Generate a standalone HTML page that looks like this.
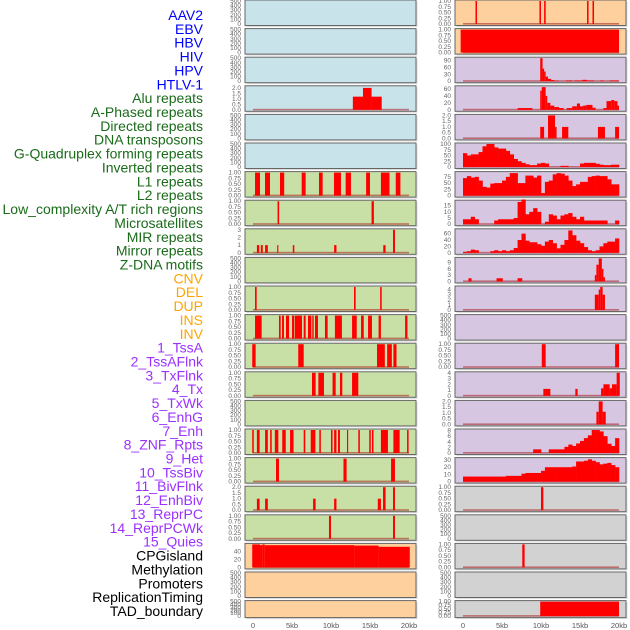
<!DOCTYPE html>
<html><head><meta charset="utf-8"><style>
html,body{margin:0;padding:0;background:#fff;width:630px;height:630px;overflow:hidden}
svg{display:block}
.lbl{font-family:"Liberation Sans",sans-serif;font-size:14px}
.tk{font-family:"Liberation Sans",sans-serif;font-size:6.5px;fill:#666}
.ax{font-family:"Liberation Sans",sans-serif;font-size:7.5px;fill:#555}
</style></head><body>
<svg id="chart" width="630" height="630"></svg>
<script>
const labelNames = ["AAV2","EBV","HBV","HIV","HPV","HTLV-1","Alu repeats","A-Phased repeats","Directed repeats","DNA transposons","G-Quadruplex forming repeats","Inverted repeats","L1 repeats","L2 repeats","Low_complexity A/T rich regions","Microsatellites","MIR repeats","Mirror repeats","Z-DNA motifs","CNV","DEL","DUP","INS","INV","1_TssA","2_TssAFlnk","3_TxFlnk","4_Tx","5_TxWk","6_EnhG","7_Enh","8_ZNF_Rpts","9_Het","10_TssBiv","11_BivFlnk","12_EnhBiv","13_ReprPC","14_ReprPCWk","15_Quies","CPGisland","Methylation","Promoters","ReplicationTiming","TAD_boundary"];
const labelGroups = [0,0,0,0,0,0,1,1,1,1,1,1,1,1,1,1,1,1,1,2,2,2,2,2,3,3,3,3,3,3,3,3,3,3,3,3,3,3,3,4,4,4,4,4];
const xTicks = [0,5,10,15,20];
const xTickLabels = ["0","5kb","10kb","15kb","20kb"];
// segments: [startKb, endKb, value]
const hivSegs = [[12.8,14.1,1.2],[14.1,15.2,2],[15.2,16.5,1.2]];
const aluSegs = [[0.26,0.9,1],[1.54,2.18,1],[3.46,4.0,1],[6.24,6.75,1],[8.46,8.93,1],[10.38,11.28,1],[11.88,12.56,1],[14.5,15.0,1],[16.4,17.5,1],[18.3,18.9,1]];
const aphasedSegs = [[3.15,3.35,1],[15.2,15.5,1]];
const directedSegs = [[0.5,0.8,1],[1.0,1.25,1],[1.55,1.9,1],[3.1,3.25,1],[5.1,5.3,1],[10.4,10.7,1],[16.7,17.0,1],[17.95,18.2,3]];
const gquadSegs = [[0.26,0.47,1],[12.95,13.16,1],[16.3,16.5,1]];
const invertedSegs = [[0.26,1.11,1],[3.33,3.55,1],[3.72,3.97,1],[4.23,4.62,1],[5.0,5.26,1],[5.34,6.28,1],[6.5,6.75,1],[7.05,7.48,1],[7.6,7.78,1],[7.95,8.33,1],[9.23,9.57,1],[10.5,11.4,1],[12.7,13.3,1],[13.85,14.2,1],[14.75,15.25,1],[16.1,16.4,1],[19.5,19.8,1]];
const l1Segs = [[-0.1,0.34,1],[5.8,6.5,1],[15.9,16.9,1],[17.2,17.8,1],[18.0,18.4,1]];
const l2Segs = [[7.56,8.03,1],[8.38,9.1,1],[10.2,10.6,1],[11.15,11.45,1],[12.7,13.5,1]];
const microSegs = [[-0.1,0.1,1],[0.5,0.85,1],[1.55,1.9,1],[2.2,2.4,1],[2.8,3.25,1],[3.75,4.2,1],[4.75,5.2,1],[6.5,6.7,1],[7.4,8.0,1],[8.5,8.7,1],[10.0,10.2,1],[10.4,10.7,1],[10.9,11.15,1],[12.05,12.2,1],[13.5,13.7,1],[14.9,15.1,1],[15.25,15.45,1],[16.4,17.3,1],[18.0,18.8,1],[19.75,19.95,1]];
const mirSegs = [[2.95,3.33,1],[11.6,12.0,1],[17.7,18.2,1]];
const mirrorSegs = [[0.5,0.85,1],[1.55,1.9,1],[7.7,8.03,1],[10.4,10.7,1],[16.0,16.4,1],[16.67,17.0,2],[17.95,18.2,2]];
const zdnaSegs = [[9.74,10.0,1],[17.95,18.2,1]];
const cnvSegs = [[-0.1,0.9,58],[0.9,1.2,56],[1.2,1.5,58],[1.5,13,56],[13,16.1,55],[16.1,20.1,52]];
const insSegs = [[1.6,1.8,1],[9.8,10.0,1],[10.4,10.6,1],[15.9,16.1,1],[16.6,16.8,1]];
const invSegs = [[-0.3,20.0,1]];
const tssASegs = [[9.9,10.2,100],[10.2,10.4,55],[10.4,10.6,42],[10.6,10.9,20],[10.9,11.3,10],[11.3,11.7,5],[11.7,12.3,2],[13.2,14,3],[14.3,15.3,3],[15.3,15.9,6],[15.9,16.8,3],[17.6,18,3],[18.8,20,3]];
const tssAFlnkSegs = [[7,8.9,5],[9.9,10.1,55],[10.1,10.6,65],[10.6,10.8,40],[10.8,11.2,20],[11.2,11.7,12],[11.7,12.3,8],[12.3,12.9,5],[13.3,14,5],[14,14.6,10],[14.6,15,18],[15,15.4,10],[15.4,15.8,12],[15.8,16.6,14],[16.6,17,6],[18,18.4,5],[18.4,19,25],[19,19.4,28],[19.4,19.8,25],[19.8,20,12]];
const txFlnkSegs = [[9.9,10.4,1],[10.9,11.8,2],[11.8,12.0,1],[12.7,13.5,1],[17.3,18.2,1],[19.5,20,1]];
const znfSegs = [[0.7,1.1,1.5],[4.3,5.1,1.5],[7,7.6,1.5],[16.9,17.1,3],[17.1,17.4,8],[17.4,17.8,11],[17.8,18.0,6],[18.0,18.2,2]];
const hetSegs = [[16.9,17.4,3],[17.4,17.6,4],[17.6,17.9,4.5],[17.9,18.2,3]];
const bivFlnkSegs = [[10.1,10.6,1],[19.5,20,1]];
const enhBivSegs = [[10.3,11.2,1.2],[14.4,14.7,1.2],[17.7,18,1.3],[18,18.8,2],[18.8,19.1,1.3],[19.1,19.7,2],[19.7,20.1,4]];
const reprPCSegs = [[17.1,17.4,1.1],[17.4,17.9,2],[17.9,18.3,1.1]];
const cpgSegs = [[10.0,10.3,1]];
const promoterSegs = [[7.6,7.9,1]];
const tadSegs = [[9.9,20.0,1]];
// binned values (0.5kb bins, 0-20kb)
const txBins = [60,50,55,55,65,90,100,100,85,80,80,70,55,35,25,18,12,8,8,15,18,15,0,0,0,5,5,0,0,0,15,18,18,18,14,10,8,8,10,10];
const txWkBins = [70,78,72,75,60,35,32,48,50,50,60,75,90,90,50,50,80,80,72,80,10,55,60,85,90,88,80,60,38,45,55,55,75,78,80,78,78,65,45,45];
const enhGBins = [4,4,6,4,0,0,0,0,3,4,4,4,4,5,18,20,8,10,13,10,0,2,8,7,4,7,8,9,6,4,6,3,3,3,3,3,3,0,0,3];
const enhBins = [3,5,10,8,0,0,0,5,8,5,8,5,8,15,40,60,38,33,33,27,22,35,40,30,14,25,40,70,55,38,30,18,8,5,8,20,30,35,35,45];
const reprPCWkBins = [0,0,0,0,0,0,0,0,0,0,0,0,0,0,0,0,0,0,1.3,1.3,0,0,1.3,1.3,1.3,1.3,2.2,3,2.5,3.4,4.3,5.3,6.3,8.2,8.2,7.7,6,3.3,2.5,5.3];
const quiesBins = [7,7,7,7,7,7,7,7,7,7,7,8,8,8,8,11,12,12,12,12,15,20,20,20,20,20,20,20,21,28,28,29,31,29,27,24,25,26,23,20];

const BLUE="#c8e3ea",GREEN="#c8e0a5",PEACH="#fdd09e",LAV="#d6c6e2",GRAY="#d2d2d2";
const T500=[0,100,200,300,400,500], T1=[0,0.25,0.5,0.75,1], T1L=["0.00","0.25","0.50","0.75","1.00"];
const leftTracks = [
 {bg:BLUE,max:500,ticks:T500},{bg:BLUE,max:500,ticks:T500},{bg:BLUE,max:500,ticks:T500},
 {bg:BLUE,max:2.1,ticks:[0,0.5,1,1.5,2],tl:["0.0","0.5","1.0","1.5","2.0"],segs:hivSegs},
 {bg:BLUE,max:500,ticks:T500},{bg:BLUE,max:500,ticks:T500},
 {bg:GREEN,max:1,ticks:T1,tl:T1L,segs:aluSegs},
 {bg:GREEN,max:1,ticks:T1,tl:T1L,segs:aphasedSegs},
 {bg:GREEN,max:3,ticks:[0,1,2,3],segs:directedSegs},
 {bg:GREEN,max:500,ticks:T500},
 {bg:GREEN,max:1,ticks:T1,tl:T1L,segs:gquadSegs},
 {bg:GREEN,max:1,ticks:T1,tl:T1L,segs:invertedSegs},
 {bg:GREEN,max:1,ticks:T1,tl:T1L,segs:l1Segs},
 {bg:GREEN,max:1,ticks:T1,tl:T1L,segs:l2Segs},
 {bg:GREEN,max:500,ticks:T500},
 {bg:GREEN,max:1,ticks:T1,tl:T1L,segs:microSegs},
 {bg:GREEN,max:1,ticks:T1,tl:T1L,segs:mirSegs},
 {bg:GREEN,max:2,ticks:[0,0.5,1,1.5,2],tl:["0.0","0.5","1.0","1.5","2.0"],segs:mirrorSegs},
 {bg:GREEN,max:1,ticks:T1,tl:T1L,segs:zdnaSegs},
 {bg:PEACH,max:58,ticks:[0,20,40],segs:cnvSegs},
 {bg:PEACH,max:500,ticks:T500},{bg:PEACH,max:500,ticks:T500}
];
const rightTracks = [
 {bg:PEACH,max:1,ticks:T1,tl:T1L,segs:insSegs},
 {bg:PEACH,max:1,ticks:T1,tl:T1L,segs:invSegs},
 {bg:LAV,max:100,ticks:[0,30,60,90],segs:tssASegs},
 {bg:LAV,max:66,ticks:[0,20,40,60],segs:tssAFlnkSegs},
 {bg:LAV,max:2,ticks:[0,0.5,1,1.5,2],tl:["0.0","0.5","1.0","1.5","2.0"],segs:txFlnkSegs},
 {bg:LAV,max:100,ticks:[0,25,50,75,100],bins:txBins},
 {bg:LAV,max:92,ticks:[0,25,50,75],bins:txWkBins},
 {bg:LAV,max:18.6,ticks:[0,5,10,15],bins:enhGBins},
 {bg:LAV,max:72,ticks:[0,20,40,60],bins:enhBins},
 {bg:LAV,max:11,ticks:[0,3,6,9],segs:znfSegs},
 {bg:LAV,max:4.5,ticks:[0,1,2,3,4],segs:hetSegs},
 {bg:LAV,max:500,ticks:T500},
 {bg:LAV,max:1,ticks:T1,tl:T1L,segs:bivFlnkSegs},
 {bg:LAV,max:4,ticks:[0,1,2,3,4],segs:enhBivSegs},
 {bg:LAV,max:2,ticks:[0,0.5,1,1.5,2],tl:["0.0","0.5","1.0","1.5","2.0"],segs:reprPCSegs},
 {bg:LAV,max:8.2,ticks:[0,2,4,6,8],bins:reprPCWkBins},
 {bg:LAV,max:32,ticks:[0,10,20,30],bins:quiesBins},
 {bg:GRAY,max:1,ticks:T1,tl:T1L,segs:cpgSegs},
 {bg:GRAY,max:500,ticks:T500},
 {bg:GRAY,max:1,ticks:T1,tl:T1L,segs:promoterSegs},
 {bg:GRAY,max:500,ticks:T500},
 {bg:GRAY,max:1,ticks:T1,tl:T1L,segs:tadSegs}
];
const NS="http://www.w3.org/2000/svg";
const svg=document.getElementById('chart');
function mk(tag,attrs,parent){const e=document.createElementNS(NS,tag);for(const k in attrs)e.setAttribute(k,attrs[k]);(parent||svg).appendChild(e);return e;}
const groupColors=["#0000ff","#1a6b1a","#ffa500","#9b30ff","#000000"];
labelNames.forEach((n,i)=>{
  const t=mk('text',{x:203,y:20+i*13.86,'text-anchor':'end',class:'lbl',fill:groupColors[labelGroups[i]]});
  t.textContent=n;
  
  
});
const KB=7.8;
function drawCol(tracks,px,x0,col){
  tracks.forEach((tr,i)=>{
    const top=i*28.6, h=(i===21?17:25.5);
    const g=mk('g',{});
    
    
    mk('rect',{x:px+1.5,y:top+1.5,width:171,height:h,fill:'#ddd'},g);
    mk('rect',{x:px,y:top,width:171,height:h,fill:tr.bg,stroke:'#666','stroke-width':1},g);
    const yb=top+h-1.5, yt=top+1;
    const ys=v=>yb-(v/tr.max)*(yb-yt);
    const xs=k=>x0+k*KB;
    tr.ticks.forEach((tv,j)=>{
      const lab=mk('text',{x:px-4,y:ys(tv)+2,'text-anchor':'end',class:'tk'},g);
      lab.textContent=tr.tl?tr.tl[j]:String(tv);
    });
    if(tr.segs||tr.bins){
      mk('rect',{x:xs(0),y:yb-1,width:20*KB,height:1.6,fill:'rgba(170,30,30,0.55)'},g);
    }
    if(tr.segs){
      tr.segs.forEach(s=>{
        const r=mk('rect',{x:xs(s[0]),y:ys(s[2]),width:Math.max(1,xs(s[1])-xs(s[0])),height:yb-ys(s[2]),fill:'#ff0000'},g);
        
        
      });
    }
    if(tr.bins){
      tr.bins.forEach((v,b)=>{
        if(v<=0)return;
        const r=mk('rect',{x:xs(b*0.5),y:ys(v),width:0.5*KB+0.3,height:yb-ys(v),fill:'#ff0000'},g);
        
        
      });
    }
  });
  xTicks.forEach((k,j)=>{
    const t=mk('text',{x:x0+k*KB,y:628,'text-anchor':'middle',class:'ax'});
    t.textContent=xTickLabels[j];
    
    
  });
}
drawCol(leftTracks,245,253,'left');
drawCol(rightTracks,455,463,'right');
</script>
</body></html>
